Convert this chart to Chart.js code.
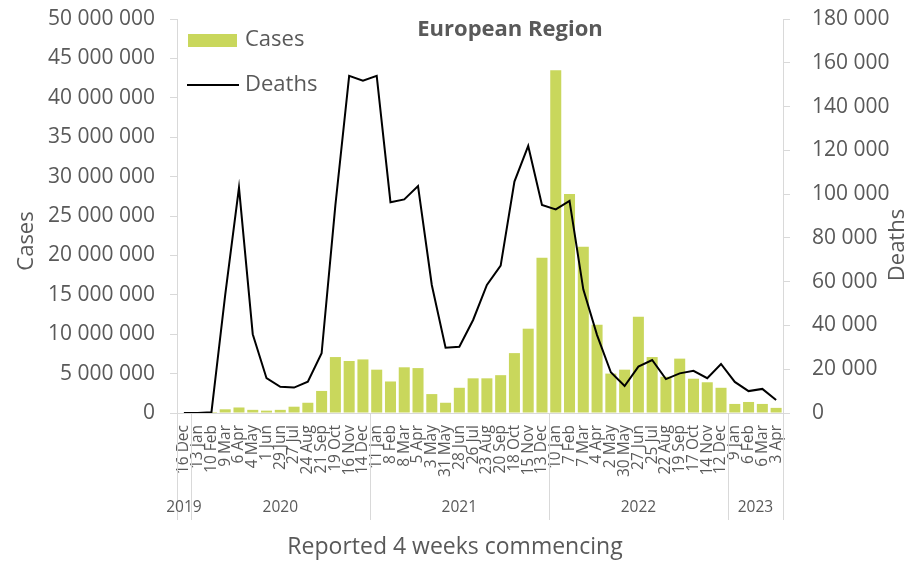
<!DOCTYPE html>
<html>
<head>
<meta charset="utf-8">
<script src="https://cdn.jsdelivr.net/npm/chart.js@4.4.1/dist/chart.umd.min.js"></script>
<style>
  html, body { margin: 0; padding: 0; background: #ffffff; }
  #wrap { width: 923px; height: 562px; position: relative; }
</style>
</head>
<body>
<div id="wrap"><canvas id="c" width="923" height="562"></canvas></div>
<script>
// ---- Data ----
const categories = [
  '16 Dec',
  '13 Jan','10 Feb','9 Mar','6 Apr','4 May','1 Jun','29 Jun','27 Jul','24 Aug','21 Sep','19 Oct','16 Nov','14 Dec',
  '11 Jan','8 Feb','8 Mar','5 Apr','3 May','31 May','28 Jun','26 Jul','23 Aug','20 Sep','18 Oct','15 Nov','13 Dec',
  '10 Jan','7 Feb','7 Mar','4 Apr','2 May','30 May','27 Jun','25 Jul','22 Aug','19 Sep','17 Oct','14 Nov','12 Dec',
  '9 Jan','6 Feb','6 Mar','3 Apr'
];
const yearLabels = ['2019', '2020', '2021', '2022', '2023'];
const yearSpans = [1, 13, 13, 13, 4];

const cases = [
  0, 0, 100, 470000, 700000, 400000, 300000, 400000, 800000, 1300000, 2800000, 7100000, 6600000, 6800000,
  5500000, 4000000, 5800000, 5700000, 2400000, 1300000, 3200000, 4400000, 4400000, 4800000, 7600000, 10700000, 19700000,
  43500000, 27800000, 21100000, 11200000, 5000000, 5500000, 12200000, 7100000, 4600000, 6900000, 4350000, 3900000, 3200000,
  1150000, 1400000, 1150000, 650000
];
const deaths = [
  0, 0, 300, 54000, 103000, 36000, 15900, 12000, 11600, 14300, 27300, 95000, 154000, 151800,
  154000, 96300, 97600, 103700, 58500, 29800, 30300, 42500, 58500, 67300, 105700, 122000, 95000,
  93000, 96900, 56500, 35600, 18600, 12300, 21200, 24200, 15500, 18100, 19300, 15900, 22400,
  14200, 10000, 11000, 5900
];

const chartTitle = 'European Region';
const xTitle = 'Reported 4 weeks commencing';
const yTitleLeft = 'Cases';
const yTitleRight = 'Deaths';

// ---- Styling ----
const FONT = "'Open Sans', 'Liberation Sans', sans-serif";
const TEXT = '#595959';
const AXIS = '#D9D9D9';
const BAR = '#C9D75C';

function spaced(v) {
  return String(Math.round(v)).replace(/\B(?=(\d{3})+(?!\d))/g, ' ');
}

function vText(ctx, text, x, y) {
  ctx.save();
  ctx.translate(x, y);
  ctx.rotate(-Math.PI / 2);
  ctx.fillText(text, 0, 0);
  ctx.restore();
}

const decorations = {
  id: 'decorations',
  afterDraw(chart) {
    const { ctx, chartArea, scales } = chart;
    const x = scales.x;
    const step = x.getPixelForValue(1) - x.getPixelForValue(0);
    const left0 = x.getPixelForValue(0) - step / 2;
    ctx.save();
    // year dividers
    ctx.strokeStyle = AXIS;
    ctx.lineWidth = 1;
    let acc = 0;
    const bounds = [0];
    yearSpans.forEach(s => { acc += s; bounds.push(acc); });
    bounds.forEach(b => {
      const px = Math.round(left0 + b * step) + 0.5;
      ctx.beginPath();
      ctx.moveTo(px, chartArea.bottom);
      ctx.lineTo(px, chartArea.bottom + 107);
      ctx.stroke();
    });
    // year labels
    ctx.fillStyle = TEXT;
    ctx.font = `15.5px ${FONT}`;
    ctx.textAlign = 'center';
    ctx.textBaseline = 'middle';
    yearLabels.forEach((lab, i) => {
      const cx = left0 + (bounds[i] + bounds[i + 1]) / 2 * step;
      ctx.fillText(lab, cx, chartArea.bottom + 95);
    });
    // axis titles
    ctx.font = `23px ${FONT}`;
    ctx.fillText(xTitle, 455, 547);
    ctx.font = `22px ${FONT}`;
    vText(ctx, yTitleLeft, 27, 241);
    vText(ctx, yTitleRight, 898, 245);
    // chart title
    ctx.font = `bold 22px ${FONT}`;
    ctx.fillText(chartTitle, 510, 30);
    // legend
    const ds = chart.data.datasets;
    ctx.textAlign = 'left';
    ctx.font = `22px ${FONT}`;
    ctx.fillStyle = ds[1].backgroundColor;
    ctx.fillRect(chartArea.left + 11, 34, 49, 13);
    ctx.fillStyle = TEXT;
    ctx.fillText(ds[1].label, chartArea.left + 68, 40);
    ctx.strokeStyle = ds[0].borderColor;
    ctx.lineWidth = 2;
    ctx.beginPath();
    ctx.moveTo(chartArea.left + 10, 85);
    ctx.lineTo(chartArea.left + 62, 85);
    ctx.stroke();
    ctx.fillText(ds[0].label, chartArea.left + 68, 85);
    ctx.restore();
  }
};

new Chart(document.getElementById('c'), {
  data: {
    labels: categories,
    datasets: [
      {
        type: 'line',
        label: 'Deaths',
        data: deaths,
        yAxisID: 'y1',
        borderColor: '#000000',
        backgroundColor: '#000000',
        borderWidth: 2,
        pointRadius: 0,
        tension: 0,
        order: 0
      },
      {
        type: 'bar',
        label: 'Cases',
        data: cases,
        yAxisID: 'y',
        backgroundColor: BAR,
        barPercentage: 0.8,
        categoryPercentage: 1.0,
        order: 1
      }
    ]
  },
  options: {
    responsive: false,
    animation: false,
    layout: { padding: { top: 19, left: 0, right: 0, bottom: 0 } },
    plugins: {
      legend: { display: false },
      title: { display: false },
      tooltip: { enabled: false }
    },
    scales: {
      x: {
        type: 'category',
        grid: { display: false, drawTicks: false },
        border: { display: true, color: AXIS, width: 1 },
        ticks: {
          autoSkip: false,
          maxRotation: 90,
          minRotation: 90,
          padding: 12,
          color: TEXT,
          font: { family: FONT, size: 15.5 }
        },
        title: { display: false, text: xTitle },
        afterFit(s) { s.height = 149; s.paddingLeft = 0; s.paddingRight = 0; }
      },
      y: {
        position: 'left',
        min: 0,
        max: 50000000,
        grid: { display: true, drawOnChartArea: false, drawTicks: true, tickLength: 7, color: AXIS },
        border: { display: true, color: AXIS, width: 1 },
        ticks: {
          stepSize: 5000000,
          padding: 15,
          color: TEXT,
          font: { family: FONT, size: 21 },
          callback: v => spaced(v)
        },
        title: { display: false, text: yTitleLeft },
        afterFit(s) { s.width = 177; s.paddingTop = 0; s.paddingBottom = 0; }
      },
      y1: {
        position: 'right',
        min: 0,
        max: 180000,
        grid: { display: true, drawOnChartArea: false, drawTicks: true, tickLength: 7, color: AXIS },
        border: { display: true, color: AXIS, width: 1 },
        ticks: {
          stepSize: 20000,
          padding: 22,
          color: TEXT,
          font: { family: FONT, size: 21 },
          callback: v => spaced(v)
        },
        title: { display: false, text: yTitleRight },
        afterFit(s) { s.width = 140; s.paddingTop = 0; s.paddingBottom = 0; }
      }
    }
  },
  plugins: [decorations]
});
</script>
</body>
</html>
